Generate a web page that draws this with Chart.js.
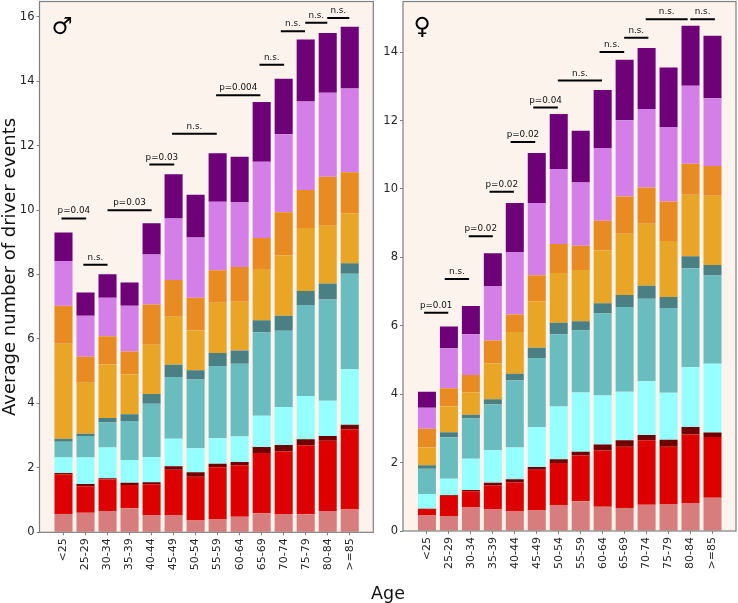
<!DOCTYPE html>
<html>
<head>
<meta charset="utf-8">
<script src="https://cdn.jsdelivr.net/npm/chart.js@4"></script>
<style>
html,body{margin:0;padding:0;background:#fff;width:738px;height:603px;overflow:hidden;font-family:"DejaVu Sans",sans-serif}
canvas{position:absolute;top:0}
#age{position:absolute;left:338px;width:100px;top:582px;text-align:center;font-size:17.5px;line-height:22px;color:#111}
</style>
</head>
<body>
<div style="position:absolute;left:0;top:0;width:378px;height:603px"><canvas id="male"></canvas></div>
<div style="position:absolute;left:378px;top:0;width:360px;height:603px"><canvas id="female"></canvas></div>
<div id="age">Age</div>
<script>
const ages = ['<25','25-29','30-34','35-39','40-44','45-49','50-54','55-59','60-64','65-69','70-74','75-79','80-84','>=85'];
const yTitle = 'Average number of driver events';

const seriesNames = ['pink','red','darkred','cyan','teal','darkteal','gold','orange','orchid','purple'];
const seriesColors = ['#D77D7D','#DC0000','#700000','#96FFFF','#6ABDBE','#4A8083','#E9A525','#E88B22','#D47FE8','#6E0078'];

const malePink = [.57,.61,.66,.75,.54,.54,.37,.40,.48,.59,.57,.56,.66,.71];
const maleRed = [1.23,.82,.98,.72,.95,1.40,1.35,1.62,1.60,1.87,1.94,2.14,2.18,2.49];
const maleDarkred = [.04,.07,.04,.07,.06,.11,.14,.11,.10,.19,.20,.19,.15,.14];
const maleCyan = [.48,.82,.95,.70,.79,.85,.75,.79,.79,.97,1.18,1.34,1.09,1.72];
const maleTeal = [.49,.67,.78,1.21,1.65,1.92,2.13,2.24,2.26,2.59,2.36,2.82,3.14,2.96];
const maleDarkteal = [.09,.07,.14,.21,.30,.38,.29,.40,.41,.37,.47,.44,.50,.33];
const maleGold = [2.95,1.58,1.66,1.24,1.53,1.49,1.23,1.56,1.51,1.59,1.88,1.95,1.79,1.55];
const maleOrange = [1.18,.81,.87,.71,1.25,1.14,1.02,1.01,1.08,.96,1.33,1.18,1.52,1.27];
const maleOrchid = [1.39,1.27,1.20,1.42,1.55,1.91,1.87,2.13,2.02,2.37,2.42,2.75,2.61,2.60];
const malePurple = [.88,.72,.73,.72,.97,1.37,1.32,1.50,1.40,1.85,1.72,1.92,1.85,1.92];

const femalePink = [.45,.44,.69,.64,.57,.60,.76,.87,.71,.67,.77,.79,.82,.97];
const femaleRed = [.19,.59,.47,.70,.85,1.19,1.23,1.34,1.64,1.79,1.88,1.67,2.00,1.78];
const femaleDarkred = [.01,.02,.04,.07,.09,.08,.11,.11,.18,.19,.16,.21,.22,.13];
const femaleCyan = [.43,.48,.91,.95,.93,1.16,1.54,1.73,1.43,1.42,1.57,1.37,1.75,2.01];
const femaleTeal = [.74,1.21,1.18,1.34,1.96,2.03,2.11,1.81,2.40,2.48,2.41,2.48,2.89,2.58];
const femaleDarkteal = [.10,.15,.11,.15,.20,.30,.34,.27,.30,.35,.38,.32,.35,.31];
const femaleGold = [.52,.75,.65,1.05,1.22,1.36,1.45,1.50,1.54,1.79,1.81,1.64,1.80,2.02];
const femaleOrange = [.55,.53,.51,.67,.51,.76,.85,.71,.87,1.09,1.06,1.15,.91,.87];
const femaleOrchid = [.61,1.17,1.19,1.59,1.83,2.11,2.19,1.85,2.13,2.23,2.30,2.18,2.28,1.98];
const femalePurple = [.47,.64,.83,.96,1.43,1.46,1.61,1.51,1.69,1.77,1.78,1.74,1.75,1.83];

// brackets: label, from-category, to-category, height
const maleLabels = ['p=0.04','n.s.','p=0.03','p=0.03','n.s.','p=0.004','n.s.','n.s.','n.s.','n.s.'];
const maleFrom = [-.09,.9,2,3.9,4.93,6.93,8.9,9.87,10.98,11.98];
const maleTo = [1.03,2,4,5.03,6.96,8.94,10.02,10.97,11.98,12.98];
const maleY = [9.74,8.3,9.99,11.41,12.37,13.56,14.51,15.55,15.81,15.96];

const femaleLabels = ['p=0.01','n.s.','p=0.02','p=0.02','p=0.02','p=0.04','n.s.','n.s.','n.s.','n.s.','n.s.'];
const femaleFrom = [-.13,.81,1.9,2.85,3.81,4.84,5.96,7.86,8.98,9.96,11.99];
const femaleTo = [.97,1.92,3.0,3.96,4.93,5.96,7.97,8.98,10.08,11.87,13.11];
const femaleY = [6.38,7.37,8.62,9.92,11.37,12.38,13.17,14.0,14.42,14.96,14.96];

const TICK = '#262626', FRAME = '#7f7f7f', BG = '#FCF4EC';

function build(id, o){
  const canvas = document.getElementById(id);
  const bars = o.series.map((vals,k)=>({
    type:'bar',
    label:seriesNames[k],
    data:vals.map((v,i)=>({x:i,y:v})),
    backgroundColor:seriesColors[k],
    borderWidth:0,
    barPercentage:.82,
    categoryPercentage:1,
    order:2
  }));
  const lines = o.from.map((f,i)=>({
    type:'line',
    label:'bracket'+i,
    stack:'bracket'+i,
    data:[{x:f,y:o.y[i]},{x:o.to[i],y:o.y[i]}],
    borderColor:'#000',
    borderWidth:2,
    pointRadius:0,
    order:1
  }));
  const deco = {
    id:'deco',
    beforeDatasetsDraw(c){
      const a=c.chartArea, g=c.ctx;
      g.save(); g.fillStyle=BG; g.fillRect(a.left,a.top,a.width,a.height); g.restore();
    },
    afterDatasetsDraw(c){
      const a=c.chartArea, g=c.ctx, X=c.scales.x, Y=c.scales.y;
      g.save();
      g.strokeStyle=FRAME; g.lineWidth=1.2;
      g.strokeRect(a.left,a.top,a.width,a.height);
      g.fillStyle='#111'; g.font='8.8px "DejaVu Sans"'; g.textAlign='center'; g.textBaseline='alphabetic';
      o.labels.forEach((t,i)=>{
        const px=(X.getPixelForValue(o.from[i])+X.getPixelForValue(o.to[i]))/2;
        g.fillText(t,px,Y.getPixelForValue(o.y[i])-5);
      });
      g.fillStyle='#000'; g.textAlign='left'; g.font='bold '+o.symSize+'px "DejaVu Sans"';
      g.fillText(o.symbol,a.left+o.symX,a.top+o.symY);
      g.restore();
    }
  };
  return new Chart(canvas,{
    data:{datasets:[...bars,...lines]},
    plugins:[deco],
    options:{
      responsive:false, animation:false,
      layout:{autoPadding:false,padding:{top:1.5,right:o.padRight,left:0,bottom:0}},
      plugins:{legend:{display:false},tooltip:{enabled:false}},
      scales:{
        x:{
          type:'linear', stacked:true, min:-1.09, max:14.07, offset:false,
          afterFit(s){s.height=o.xH;s.paddingLeft=0;s.paddingRight=0;},
          afterBuildTicks(s){s.ticks=s.ticks.filter(t=>Number.isInteger(t.value)&&t.value>=0&&t.value<ages.length);},
          grid:{offset:false,drawOnChartArea:false,drawTicks:true,tickLength:3,tickColor:FRAME,tickWidth:1},
          border:{display:false},
          ticks:{stepSize:1,autoSkip:false,maxRotation:90,minRotation:90,padding:3,color:TICK,
            font:{family:'"DejaVu Sans"',size:11},callback:v=>ages[v]}
        },
        y:{
          stacked:true, min:0, max:o.yMax,
          afterFit(s){s.width=o.yW;s.paddingTop=0;s.paddingBottom=0;},
          afterBuildTicks(s){s.ticks=s.ticks.filter(t=>t.value%2===0);},
          grid:{drawOnChartArea:false,drawTicks:true,tickLength:3,tickColor:FRAME,tickWidth:1},
          border:{display:false},
          title:o.title?{display:true,text:o.title,color:'#111',font:{family:'"DejaVu Sans"',size:18},padding:{top:0,bottom:0}}:{display:false},
          ticks:{stepSize:2,padding:2,color:TICK,font:{family:'"DejaVu Sans"',size:11.5}}
        }
      }
    }
  });
}

function sizeCanvas(id,w,h){const c=document.getElementById(id);c.width=w;c.height=h;c.style.width=w+'px';c.style.height=h+'px';}
sizeCanvas('male',378,603); sizeCanvas('female',360,603);

build('male',{
  series:[malePink,maleRed,maleDarkred,maleCyan,maleTeal,maleDarkteal,maleGold,maleOrange,maleOrchid,malePurple],
  labels:maleLabels,from:maleFrom,to:maleTo,y:maleY,
  yMax:16.47,yW:39.5,xH:70.7,padRight:4.7,title:yTitle,
  symbol:'\u2642',symSize:23.5,symX:12,symY:32
});
build('female',{
  series:[femalePink,femaleRed,femaleDarkred,femaleCyan,femaleTeal,femaleDarkteal,femaleGold,femaleOrange,femaleOrchid,femalePurple],
  labels:femaleLabels,from:femaleFrom,to:femaleTo,y:femaleY,
  yMax:15.48,yW:25,xH:72,padRight:2,
  symbol:'\u2640',symSize:23.5,symX:10.5,symY:32.5
});
</script>
</body>
</html>
